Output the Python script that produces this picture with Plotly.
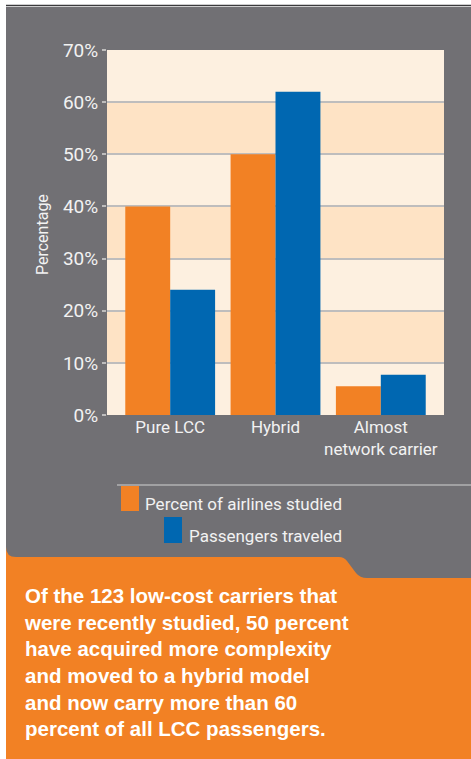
import plotly.graph_objects as go

# Chart data
categories = ["Pure LCC", "Hybrid", "Almost<br>network carrier"]
airlines_pct = [40, 50, 5.5]
passengers_pct = [24, 62, 7.7]
series_names = ["Percent of airlines studied", "Passengers traveled"]
y_ticks = [0, 10, 20, 30, 40, 50, 60, 70]
y_tick_labels = [f"{v}%" for v in y_ticks]
caption_lines = [
    "Of the 123 low-cost carriers that",
    "were recently studied, 50 percent",
    "have acquired more complexity",
    "and moved to a hybrid model",
    "and now carry more than 60",
    "percent of all LCC passengers.",
]

W, H = 471, 759
ML, MR, MT, MB = 107, 27, 50, 344
PW, PH = W - ML - MR, H - MT - MB

ORANGE = "#F28124"
BLUE = "#0067B1"
GREY = "#717074"
LIGHT = "#FDF0E0"
PEACH = "#FEE3C5"
TXT = "#F2F2F2"
SANS = "Liberation Sans Narrow, Arial Narrow, Roboto, sans-serif"


def px(x):
    return (x - ML) / PW


def py(y):
    return (H - MB - y) / PH


def path(cmds):
    out = []
    for c in cmds:
        if isinstance(c, str):
            out.append(c)
        else:
            out.append(f"{px(c[0]):.5f},{py(c[1]):.5f}")
    return " ".join(out)


fig = go.Figure()
fig.add_bar(x=categories, y=airlines_pct, name=series_names[0],
            marker=dict(color=ORANGE, line=dict(width=0)))
fig.add_bar(x=categories, y=passengers_pct, name=series_names[1],
            marker=dict(color=BLUE, line=dict(width=0)))

shapes = []
# orange footer panel
shapes.append(dict(type="rect", xref="paper", yref="paper", layer="below",
                   x0=px(6), x1=px(471), y0=py(545), y1=py(759),
                   fillcolor=ORANGE, line=dict(width=0)))
# grey chart panel with stepped, rounded bottom edge
grey_path = path([
    "M", (6, 7), "L", (471, 7), "L", (471, 578), "L", (367, 578),
    "Q", (360, 578), (356, 573), "L", (347, 561),
    "Q", (344, 557), (339, 557), "L", (16, 557),
    "Q", (6, 557), (6, 547), "Z",
])
shapes.append(dict(type="path", xref="paper", yref="paper", layer="below",
                   path=grey_path, fillcolor=GREY, line=dict(width=0)))
# dark rule along the top
shapes.append(dict(type="line", xref="paper", yref="paper", layer="below",
                   x0=px(6), x1=px(471), y0=py(5.5), y1=py(5.5),
                   line=dict(color="#3A3A3C", width=1.5)))
# alternating horizontal bands in the plot area
for i in range(len(y_ticks) - 1):
    shapes.append(dict(type="rect", xref="x domain", yref="y", layer="below",
                       x0=0, x1=1, y0=y_ticks[i], y1=y_ticks[i + 1],
                       fillcolor=LIGHT if i % 2 == 0 else PEACH,
                       line=dict(width=0)))
# legend rule and swatches
shapes.append(dict(type="line", xref="paper", yref="paper",
                   x0=px(117), x1=px(471), y0=py(485), y1=py(485),
                   line=dict(color="#D2D2D2", width=1.2)))
shapes.append(dict(type="rect", xref="paper", yref="paper",
                   x0=px(121), x1=px(139), y0=py(511), y1=py(486),
                   fillcolor=ORANGE, line=dict(width=0)))
shapes.append(dict(type="rect", xref="paper", yref="paper",
                   x0=px(164), x1=px(182), y0=py(543), y1=py(517),
                   fillcolor=BLUE, line=dict(width=0)))

annotations = [
    dict(text="Percentage", x=px(42), y=py(235), xref="paper", yref="paper",
         textangle=-90, showarrow=False, xanchor="center", yanchor="middle",
         font=dict(family=SANS, size=16, color=TXT)),
    dict(text=series_names[0], x=px(344), y=py(504), xref="paper", yref="paper",
         showarrow=False, xanchor="right", yanchor="middle",
         font=dict(family=SANS, size=17, color=TXT)),
    dict(text=series_names[1], x=px(344), y=py(536), xref="paper", yref="paper",
         showarrow=False, xanchor="right", yanchor="middle",
         font=dict(family=SANS, size=17, color=TXT)),
    dict(text="<br>".join(caption_lines), x=px(22), y=py(582),
         xref="paper", yref="paper", showarrow=False, align="left",
         xanchor="left", yanchor="top",
         font=dict(family="Liberation Sans, Arial, sans-serif", size=20.5,
                   color="#FFFFFF", weight="bold")),
]

fig.update_layout(
    width=W, height=H,
    margin=dict(l=ML, r=MR, t=MT, b=MB),
    paper_bgcolor="#FFFFFF",
    plot_bgcolor="rgba(0,0,0,0)",
    barmode="group", bargap=0.147, bargroupgap=0,
    showlegend=False,
    shapes=shapes, annotations=annotations,
    xaxis=dict(range=[-0.6, 2.6], showgrid=False, zeroline=False,
               showline=False, ticks="", fixedrange=True,
               tickfont=dict(family=SANS, size=17, color=TXT)),
    yaxis=dict(range=[0, 70], tickvals=y_ticks, ticktext=y_tick_labels,
               showgrid=True, gridcolor="#BEBDBD", gridwidth=1.5,
               zeroline=False, showline=False,
               ticks="outside", ticklen=4, tickcolor="#BEBDBD", tickwidth=1.5,
               tickfont=dict(family=SANS, size=19, color=TXT)),
)

fig.write_html("out.html")
